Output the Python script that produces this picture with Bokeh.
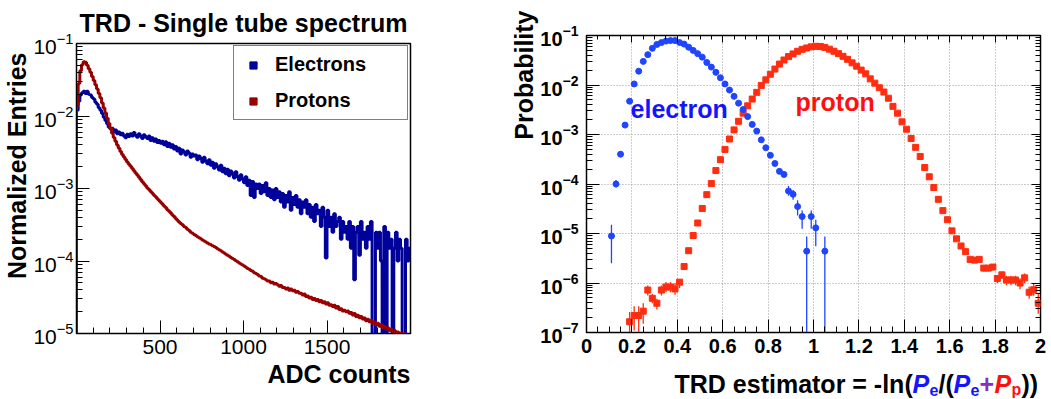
import numpy as np
from bokeh.plotting import figure
from bokeh.models import (FixedTicker, LogTicker, Label, Legend, LegendItem, Title,
                          CustomJSTickFormatter, LinearAxis, LogAxis, Range1d)
from bokeh.layouts import row, column
from bokeh.embed import file_html
from bokeh.resources import INLINE

FONT = "Liberation Sans"

# ---------------- left panel data: single tube spectrum (10 ADC bins, 0..2000)
adc_bin_width = 10
electron_entries = [
    1.2e-2, 1.6e-2, 1.95e-2, 2.1e-2, 2.2e-2, 2.05e-2, 2.2e-2, 2.0e-2, 1.95e-2, 1.8e-2,
    1.72e-2, 1.55e-2, 1.45e-2, 1.3e-2, 1.2e-2, 1.08e-2, 9.6e-3, 8.7e-3, 7.8e-3, 7.0e-3,
    6.6e-3, 6.8e-3, 6.1e-3, 6.4e-3, 5.7e-3, 6.0e-3, 5.5e-3, 5.8e-3, 5.3e-3, 5.0e-3,
    5.6e-3, 5.2e-3, 5.7e-3, 5.3e-3, 5.9e-3, 5.4e-3, 5.1e-3, 5.7e-3, 5.3e-3, 4.9e-3,
    5.5e-3, 5.2e-3, 4.9e-3, 5.3e-3, 4.6e-3, 5.0e-3, 4.5e-3, 4.8e-3, 4.3e-3, 4.6e-3,
    4.2e-3, 4.5e-3, 4.0e-3, 4.4e-3, 3.8e-3, 4.2e-3, 3.7e-3, 4.0e-3, 3.5e-3, 3.8e-3,
    3.3e-3, 3.6e-3, 3.0e-3, 3.4e-3, 3.2e-3, 2.9e-3, 3.3e-3, 3.1e-3, 2.7e-3, 3.0e-3,
    2.8e-3, 2.9e-3, 2.5e-3, 2.8e-3, 2.6e-3, 2.3e-3, 2.7e-3, 2.4e-3, 2.2e-3, 2.5e-3,
    2.1e-3, 2.3e-3, 1.9e-3, 2.2e-3, 2.0e-3, 1.8e-3, 2.1e-3, 1.7e-3, 1.9e-3, 1.6e-3,
    1.85e-3, 1.5e-3, 1.75e-3, 1.6e-3, 1.4e-3, 1.7e-3, 1.45e-3, 1.3e-3, 1.55e-3, 1.35e-3,
    1.2e-3, 1.45e-3, 1.1e-3, 1.3e-3, 8.0e-4, 1.25e-3, 7.5e-4, 1.15e-3, 1.0e-3, 1.15e-3,
    8.5e-4, 1.1e-3, 9.0e-4, 1.2e-3, 8.0e-4, 1.0e-3, 7.5e-4, 9.5e-4, 7.0e-4, 1.0e-3,
    7.5e-4, 9.0e-4, 6.5e-4, 8.5e-4, 5.5e-4, 8.0e-4, 6.5e-4, 9.0e-4, 5.0e-4, 7.5e-4,
    6.0e-4, 8.0e-4, 5.5e-4, 7.0e-4, 4.5e-4, 6.5e-4, 5.5e-4, 7.0e-4, 4.5e-4, 6.0e-4,
    4.0e-4, 5.5e-4, 3.5e-4, 6.0e-4, 4.5e-4, 5.0e-4, 3.0e-4, 5.5e-4, 4.0e-4, 1.1e-4,
    5.0e-4, 3.0e-4, 4.0e-4, 2.5e-4, 4.5e-4, 3.0e-4, 3.5e-4, 4.0e-4, 2.0e-4, 3.5e-4,
    2.5e-4, 3.0e-4, 2.0e-4, 3.5e-4, 1.5e-4, 3.0e-4, 5.5e-5, 2.5e-4, 3.0e-4, 1.2e-4,
    3.5e-4, 2.0e-4, 2.5e-4, 1.5e-4, 3.0e-4, 2.0e-4, 3.5e-4, 0.0, 0.0, 2.5e-4,
    1.5e-4, 2.5e-4, 1.0e-4, 0.0, 3.0e-4, 0.0, 2.5e-4, 1.5e-4, 2.0e-4, 0.0,
    1.5e-4, 2.5e-4, 1.0e-4, 2.0e-4, 1.5e-4, 0.0, 0.0, 2.0e-4, 1.0e-4, 1.5e-4,
]
proton_entries = [
    1.4e-2, 2.8e-2, 4.2e-2, 5.1e-2, 5.6e-2, 5.5e-2, 5.0e-2, 4.5e-2, 4.0e-2, 3.5e-2,
    3.1e-2, 2.7e-2, 2.35e-2, 2.05e-2, 1.78e-2, 1.51e-2, 1.29e-2, 1.10e-2, 9.3e-3, 7.9e-3,
    6.8e-3, 5.8e-3, 5.07e-3, 4.47e-3, 3.98e-3, 3.59e-3, 3.24e-3, 2.95e-3, 2.72e-3, 2.51e-3,
    2.32e-3, 2.16e-3, 2.02e-3, 1.88e-3, 1.76e-3, 1.64e-3, 1.53e-3, 1.43e-3, 1.33e-3, 1.24e-3,
    1.16e-3, 1.09e-3, 1.02e-3, 9.7e-4, 9.1e-4, 8.6e-4, 8.1e-4, 7.7e-4, 7.25e-4, 6.85e-4,
    6.45e-4, 6.1e-4, 5.75e-4, 5.45e-4, 5.1e-4, 4.85e-4, 4.6e-4, 4.3e-4, 4.1e-4, 3.85e-4,
    3.65e-4, 3.45e-4, 3.3e-4, 3.15e-4, 3.0e-4, 2.9e-4, 2.75e-4, 2.63e-4, 2.5e-4, 2.42e-4,
    2.32e-4, 2.24e-4, 2.16e-4, 2.09e-4, 2.02e-4, 1.95e-4, 1.89e-4, 1.83e-4, 1.77e-4, 1.72e-4,
    1.67e-4, 1.62e-4, 1.58e-4, 1.53e-4, 1.48e-4, 1.43e-4, 1.38e-4, 1.33e-4, 1.29e-4, 1.24e-4,
    1.20e-4, 1.16e-4, 1.12e-4, 1.08e-4, 1.05e-4, 1.01e-4, 9.8e-5, 9.4e-5, 9.1e-5, 8.8e-5,
    8.5e-5, 8.2e-5, 7.9e-5, 7.7e-5, 7.4e-5, 7.2e-5, 6.9e-5, 6.7e-5, 6.5e-5, 6.2e-5,
    6.1e-5, 5.8e-5, 5.7e-5, 5.5e-5, 5.3e-5, 5.3e-5, 5.0e-5, 5.1e-5, 4.8e-5, 4.9e-5,
    4.7e-5, 4.5e-5, 4.6e-5, 4.3e-5, 4.3e-5, 4.1e-5, 4.25e-5, 3.95e-5, 4.1e-5, 3.9e-5,
    3.95e-5, 3.7e-5, 3.8e-5, 3.6e-5, 3.6e-5, 3.4e-5, 3.5e-5, 3.25e-5, 3.3e-5, 3.1e-5,
    3.15e-5, 2.95e-5, 3.05e-5, 2.85e-5, 2.95e-5, 2.75e-5, 2.85e-5, 2.65e-5, 2.75e-5, 2.55e-5,
    2.65e-5, 2.45e-5, 2.5e-5, 2.35e-5, 2.45e-5, 2.25e-5, 2.35e-5, 2.15e-5, 2.2e-5, 2.05e-5,
    2.1e-5, 2.0e-5, 2.05e-5, 1.9e-5, 1.95e-5, 1.8e-5, 1.88e-5, 1.72e-5, 1.78e-5, 1.65e-5,
    1.72e-5, 1.58e-5, 1.64e-5, 1.5e-5, 1.57e-5, 1.45e-5, 1.52e-5, 1.38e-5, 1.44e-5, 1.32e-5,
    1.38e-5, 1.26e-5, 1.32e-5, 1.2e-5, 1.26e-5, 1.15e-5, 1.2e-5, 1.1e-5, 1.14e-5, 1.06e-5,
    1.1e-5, 1.02e-5, 1.05e-5, 9.8e-6, 1.01e-5, 9.6e-6, 9.9e-6, 9.4e-6, 9.6e-6, 9.2e-6,
]
adc_tick_values = [500, 1000, 1500]
legend_labels = ["Electrons", "Protons"]

# ---------------- right panel data: TRD estimator (0.02 wide bins)
electron_x = [0.11, 0.13, 0.15, 0.17, 0.19, 0.21, 0.23, 0.25, 0.27, 0.29,
              0.31, 0.33, 0.35, 0.37, 0.39, 0.41, 0.43, 0.45, 0.47, 0.49,
              0.51, 0.53, 0.55, 0.57, 0.59, 0.61, 0.63, 0.65, 0.67, 0.69,
              0.71, 0.73, 0.75, 0.77, 0.79, 0.81, 0.83, 0.85, 0.87, 0.89,
              0.91, 0.93, 0.95, 0.97, 0.99, 1.01, 1.05]
electron_prob = [8.9e-6, 1.0e-4, 4.0e-4, 1.55e-3, 4.7e-3, 1.05e-2, 1.9e-2, 3.0e-2, 4.1e-2, 5.5e-2,
                 6.6e-2, 7.2e-2, 7.7e-2, 7.9e-2, 7.9e-2, 7.2e-2, 6.7e-2, 5.8e-2, 5.0e-2, 4.3e-2,
                 3.65e-2, 2.85e-2, 2.3e-2, 1.8e-2, 1.4e-2, 1.05e-2, 7.9e-3, 5.9e-3, 4.3e-3, 3.2e-3,
                 2.3e-3, 1.6e-3, 1.17e-3, 7.8e-4, 5.4e-4, 3.8e-4, 2.6e-4, 1.8e-4, 1.56e-4, 7.2e-5,
                 6.2e-5, 3.5e-5, 2.2e-5, 4.4e-6, 2.2e-5, 1.3e-5, 4.4e-6]
electron_err_x = [0.11, 0.13, 0.87, 0.89, 0.91, 0.93, 0.95, 0.97, 0.99, 1.01, 1.05]
electron_err_lo = [2.5e-6, 8.5e-5, 1.35e-4, 5.8e-5, 4.8e-5, 2.3e-5, 1.25e-5, 1e-8, 1.25e-5, 5.5e-6, 1e-8]
electron_err_hi = [1.5e-5, 1.2e-4, 1.8e-4, 9.1e-5, 7.6e-5, 4.7e-5, 2.9e-5, 8.7e-6, 2.9e-5, 1.9e-5, 8.7e-6]

proton_x = [round(0.19 + 0.02 * i, 2) for i in range(91)]
proton_prob = [1.65e-7, 2.2e-7, 2.2e-7, 2.7e-7, 7.2e-7, 4.9e-7, 3.9e-7, 7.2e-7, 8.3e-7, 8.3e-7,
               7.6e-7, 1.04e-6, 2.15e-6, 4.5e-6, 9.1e-6, 1.63e-5, 3.2e-5, 6.1e-5, 1.02e-4, 1.87e-4,
               3.1e-4, 5.0e-4, 8.1e-4, 1.24e-3, 1.85e-3, 2.7e-3, 3.8e-3, 5.2e-3, 7.1e-3, 9.8e-3,
               1.27e-2, 1.65e-2, 2.1e-2, 2.65e-2, 3.2e-2, 3.75e-2, 4.25e-2, 4.8e-2, 5.25e-2, 5.6e-2,
               5.9e-2, 6.05e-2, 6.0e-2, 5.75e-2, 5.3e-2, 4.8e-2, 4.3e-2, 3.8e-2, 3.3e-2, 2.8e-2,
               2.4e-2, 2.0e-2, 1.68e-2, 1.33e-2, 1.09e-2, 8.8e-3, 7.2e-3, 5.4e-3, 3.7e-3, 2.7e-3,
               1.8e-3, 1.28e-3, 8.3e-4, 5.5e-4, 3.6e-4, 2.15e-4, 1.4e-4, 8.5e-5, 4.9e-5, 2.9e-5,
               1.9e-5, 1.13e-5, 7.8e-6, 5.6e-6, 4.3e-6, 3.0e-6, 2.9e-6, 3.0e-6, 2.0e-6, 2.0e-6,
               2.1e-6, 1.23e-6, 1.46e-6, 1.15e-6, 1.15e-6, 1.15e-6, 1.0e-6, 1.27e-6, 6.5e-7, 7.3e-7,
               3.9e-7]
proton_err_x = [0.19, 0.21, 0.23, 0.25, 0.27, 0.29, 0.31, 0.33, 0.35, 0.37, 0.39, 0.41,
                1.69, 1.71, 1.73, 1.75, 1.77, 1.79, 1.81, 1.83, 1.85, 1.87, 1.89, 1.91,
                1.93, 1.95, 1.97, 1.99]
proton_err_lo = [1e-8, 1.1e-7, 1e-8, 1.5e-7, 5.6e-7, 3.9e-7, 2.9e-7, 5.6e-7, 6.5e-7, 6.5e-7, 5.8e-7, 7.9e-7,
                 2.6e-6, 2.5e-6, 2.6e-6, 1.7e-6, 1.7e-6, 1.8e-6, 1.0e-6, 1.2e-6, 9e-7, 9e-7, 9e-7, 7.5e-7,
                 1.0e-6, 4.8e-7, 5.5e-7, 2.4e-7]
proton_err_hi = [2.6e-7, 3.4e-7, 3.4e-7, 3.9e-7, 8.9e-7, 6.0e-7, 4.8e-7, 8.9e-7, 1.05e-6, 1.05e-6, 1.0e-6, 1.2e-6,
                 3.4e-6, 3.3e-6, 3.4e-6, 2.3e-6, 2.3e-6, 2.4e-6, 1.45e-6, 1.7e-6, 1.4e-6, 1.4e-6, 1.4e-6, 1.25e-6,
                 1.55e-6, 8.5e-7, 9.5e-7, 6.0e-7]

# ---------------- colours
E_DARK = "#00009a"
P_DARK = "#990000"
E_BLUE = "#1f45ff"
P_RED = "#ff2d10"
E_TEXT = "#1414ff"
P_TEXT = "#ff1010"
PLUS_PURPLE = "#8a2bc8"


def style_axis(ax, bold, size, standoff):
    ax.axis_line_color = "black"
    ax.axis_line_width = 1
    ax.major_tick_line_color = "black"
    ax.minor_tick_line_color = "black"
    ax.major_tick_in = 13
    ax.major_tick_out = 0
    ax.minor_tick_in = 6
    ax.minor_tick_out = 0
    ax.major_label_text_font = FONT
    ax.major_label_text_font_size = size
    ax.major_label_text_font_style = "bold" if bold else "normal"
    ax.major_label_text_color = "black"
    ax.major_label_standoff = standoff


def side_title(text, align, size="25px", offset=0, standoff=0):
    return Title(text=text, align=align, offset=offset, standoff=standoff,
                 text_font=FONT, text_font_style="bold", text_font_size=size,
                 text_color="black")


# =============== LEFT FIGURE
p1 = figure(width=500, height=399, x_range=Range1d(0, 2000), y_range=Range1d(1e-5, 1e-1),
            y_axis_type="log", output_backend="svg", toolbar_location=None,
            min_border_left=74, min_border_right=90, min_border_top=43, min_border_bottom=66)
p1.grid.visible = False
p1.outline_line_color = "black"
p1.outline_line_width = 1.5
p1.background_fill_color = "white"
p1.border_fill_color = "white"

p1.title.text = "TRD - Single tube spectrum"
p1.title.align = "center"
p1.title.text_font = FONT
p1.title.text_font_style = "bold"
p1.title.text_font_size = "25px"
p1.title.text_color = "black"
p1.title.standoff = 13

p1.xaxis.ticker = FixedTicker(ticks=adc_tick_values, minor_ticks=list(range(0, 2001, 100)))
p1.yaxis.ticker = LogTicker(num_minor_ticks=10)
style_axis(p1.xaxis[0], False, "21px", 6)
style_axis(p1.yaxis[0], False, "21px", 3)
p1.add_layout(side_title("Normalized Entries", "right", size="25px", offset=9), "left")
p1.add_layout(side_title("ADC counts", "right", standoff=3), "below")

floor = 1e-7
edges = [i * adc_bin_width for i in range(len(electron_entries))]
xs = [0] + edges + [2000]
e_vals = [v if v > 0 else floor for v in electron_entries]
p_vals = [v if v > 0 else floor for v in proton_entries]
p1.step(xs, [floor] + e_vals + [e_vals[-1]], mode="after", line_width=3, line_color=E_DARK)
p1.step(xs, [floor] + p_vals + [p_vals[-1]], mode="after", line_width=3, line_color=P_DARK)

# legend swatches (single off-range points, only used for the legend glyphs)
r_leg_e = p1.scatter([-500], [1e-9], marker="square", color=E_DARK)
r_leg_p = p1.scatter([-500], [1e-9], marker="square", color=P_DARK)
legend = Legend(items=[LegendItem(label=legend_labels[0], renderers=[r_leg_e]),
                       LegendItem(label=legend_labels[1], renderers=[r_leg_p])],
                location=(157, 213), orientation="vertical",
                label_text_font=FONT, label_text_font_style="bold", label_text_font_size="20px",
                label_text_color="black", glyph_width=24, glyph_height=18, label_height=22,
                label_width=125, label_standoff=10, spacing=13, padding=7, margin=0,
                border_line_color="black", border_line_width=1.5, background_fill_alpha=1)
p1.add_layout(legend)

# =============== RIGHT FIGURE
p2 = figure(width=551, height=363, x_range=Range1d(0, 2), y_range=Range1d(1e-7, 1e-1),
            y_axis_type="log", output_backend="svg", toolbar_location=None,
            min_border_left=86, min_border_right=11, min_border_top=35, min_border_bottom=31)
p2.outline_line_color = "black"
p2.outline_line_width = 1.5
p2.background_fill_color = "white"
p2.border_fill_color = "white"

major_x = [0, 0.2, 0.4, 0.6, 0.8, 1, 1.2, 1.4, 1.6, 1.8, 2]
minor_x = [round(0.05 * i, 2) for i in range(41)]
p2.xaxis.ticker = FixedTicker(ticks=major_x, minor_ticks=minor_x)
p2.xaxis.formatter = CustomJSTickFormatter(code="return String(Math.round(tick*10)/10)")
p2.yaxis.ticker = LogTicker(num_minor_ticks=10)
style_axis(p2.xaxis[0], True, "20px", 6)
style_axis(p2.yaxis[0], True, "20px", 8)
p2.add_layout(side_title("Probability", "right", offset=-25), "left")

p2.xgrid.grid_line_color = "#9a9a9a"
p2.xgrid.grid_line_dash = "1 2"
p2.ygrid.grid_line_color = "#9a9a9a"
p2.ygrid.grid_line_dash = "1 2"

blank = CustomJSTickFormatter(code="return ''")
top_ax = LinearAxis(ticker=FixedTicker(ticks=major_x, minor_ticks=minor_x), formatter=blank,
                    axis_line_color=None, major_tick_in=7, major_tick_out=0,
                    minor_tick_in=4, minor_tick_out=0, major_label_standoff=0,
                    major_label_text_font_size="0px")
right_ax = LogAxis(ticker=LogTicker(num_minor_ticks=10), formatter=blank,
                   axis_line_color=None, major_tick_in=9, major_tick_out=0,
                   minor_tick_in=5, minor_tick_out=0, major_label_standoff=0,
                   major_label_text_font_size="0px")
p2.add_layout(top_ax, "above")
p2.add_layout(right_ax, "right")

p2.segment(x0=electron_err_x, y0=electron_err_lo, x1=electron_err_x, y1=electron_err_hi,
           line_color=E_BLUE, line_width=1.3)
p2.segment(x0=proton_err_x, y0=proton_err_lo, x1=proton_err_x, y1=proton_err_hi,
           line_color=P_RED, line_width=1.3)
p2.scatter(proton_x, proton_prob, marker="square", size=6, fill_color=P_RED, line_color=P_RED)
p2.scatter(electron_x, electron_prob, marker="circle", size=6, fill_color=E_BLUE, line_color=E_BLUE)

p2.add_layout(Label(x=0.194, y=3.3e-3, text="electron", text_baseline="alphabetic",
                    text_font=FONT, text_font_style="bold", text_font_size="25px", text_color=E_TEXT))
p2.add_layout(Label(x=0.921, y=4.6e-3, text="proton", text_baseline="alphabetic",
                    text_font=FONT, text_font_style="bold", text_font_size="25px", text_color=P_TEXT))

# strip below the right plot (its frame lines up with the plot frame above) holding
# the coloured x-axis title
p2t = figure(width=551, height=36, x_range=p2.x_range, y_range=Range1d(0, 36),
             output_backend="svg", toolbar_location=None, min_border=0,
             min_border_left=0, min_border_right=0, min_border_top=0, min_border_bottom=0,
             x_axis_location=None, y_axis_location=None)
p2t.grid.visible = False
p2t.outline_line_color = None
p2t.background_fill_color = "white"
p2t.border_fill_color = "white"

# composite x-axis title: TRD estimator = -ln(P_e/(P_e+P_p)); x in px from frame left
title_parts = [
    ("TRD estimator = -ln(", 88, 16, "bold", "25px", "black"),
    ("P", 326, 16, "bold italic", "25px", E_TEXT),
    ("e", 343, 10, "bold", "16px", E_TEXT),
    ("/(", 352, 16, "bold", "25px", "black"),
    ("P", 367, 16, "bold italic", "25px", E_TEXT),
    ("e", 384, 10, "bold", "16px", E_TEXT),
    ("+", 393, 16, "bold", "25px", PLUS_PURPLE),
    ("P", 408, 16, "bold italic", "25px", P_TEXT),
    ("p", 425, 10, "bold", "16px", P_TEXT),
    ("))", 435, 16, "bold", "25px", "black"),
]
for txt, tx, ty, style, size, col in title_parts:
    p2t.add_layout(Label(x=tx, y=ty, x_units="screen", y_units="screen", text=txt,
                         text_align="left", text_baseline="alphabetic", text_font=FONT,
                         text_font_style=style, text_font_size=size, text_color=col))

layout = row(p1, column(p2, p2t))
open("out.html", "w").write(file_html(layout, INLINE))
